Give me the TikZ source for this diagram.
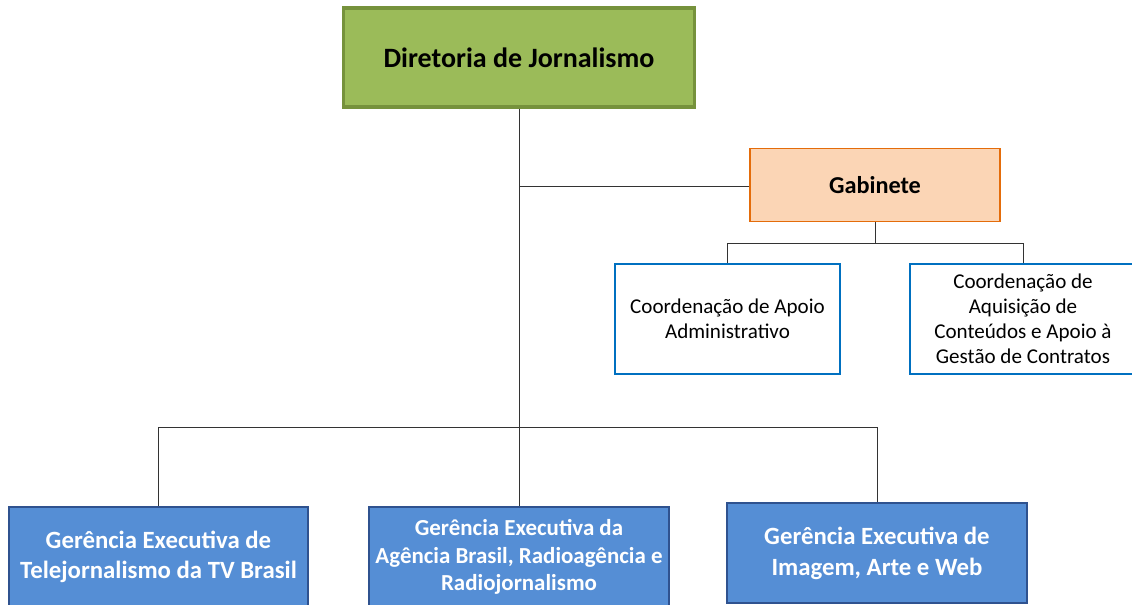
\documentclass[tikz,border=0pt]{standalone}
\usepackage{fontspec}
\setmainfont{Carlito}
\definecolor{dgreen}{HTML}{9BBB59}
\definecolor{dgreenb}{HTML}{76923C}
\definecolor{gabfill}{HTML}{FBD5B5}
\definecolor{gabline}{HTML}{E46C0A}
\definecolor{coordline}{HTML}{0070C0}
\definecolor{gerfill}{HTML}{558ED5}
\definecolor{gerline}{HTML}{2F528F}
\tikzset{
  box/.style={rectangle, inner sep=2pt, align=center},
  dirbox/.style={box, fill=dgreen, draw=dgreenb, line width=2.4pt, font=\fontsize{21}{25}\selectfont\bfseries},
  gabbox/.style={box, fill=gabfill, draw=gabline, line width=1.1pt, font=\fontsize{18.2}{22}\selectfont\bfseries},
  coordbox/.style={box, fill=white, draw=coordline, line width=1.1pt, font=\fontsize{15.8}{18.75}\selectfont},
  gerbox/.style={box, fill=gerfill, draw=gerline, line width=1.5pt, text=white, font=\fontsize{18.6}{23}\selectfont\bfseries},
  conn/.style={draw=black!80, line width=0.7pt}
}
\begin{document}
\begin{tikzpicture}[x=0.75pt,y=-0.75pt]
\useasboundingbox (0,0) rectangle (1132,605);
\clip (0,0) rectangle (1132,605);
% nodes
\node[dirbox, minimum width=351*0.75pt, minimum height=99*0.75pt] (dir) at (519,57.5) {Diretoria de Jornalismo};
\node[gabbox, minimum width=250*0.75pt, minimum height=73*0.75pt] (gab) at (875,185) {Gabinete};
\node[coordbox, minimum width=225*0.75pt, minimum height=110*0.75pt] (c1) at (727.5,319) {Coordenação de Apoio\\Administrativo};
\node[coordbox, minimum width=226*0.75pt, minimum height=110*0.75pt] (c2) at (1023,319) {Coordenação de\\Aquisição de\\Conteúdos e Apoio à\\Gestão de Contratos};
\node[gerbox, minimum width=299*0.75pt, minimum height=100*0.75pt] (g1) at (158.5,557) {Gerência Executiva de\\Telejornalismo da TV Brasil};
\node[gerbox, minimum width=300*0.75pt, minimum height=100*0.75pt, font=\fontsize{17.2}{20.6}\selectfont\bfseries] (g2) at (519,557) {Gerência Executiva da\\Agência Brasil, Radioagência e\\Radiojornalismo};
\node[gerbox, minimum width=300*0.75pt, minimum height=100*0.75pt] (g3) at (877,553.5) {Gerência Executiva de\\Imagem, Arte e Web};
% connectors
\coordinate (j1) at (519,186);
\coordinate (j2) at (519,427);
\coordinate (k1) at (875,243);
\draw[conn] (dir.south) -- (j2);
\draw[conn] (j1) -- (gab.west |- j1);
\draw[conn] (gab.south) -- (k1);
\draw[conn] (k1) -| (c1.north);
\draw[conn] (k1) -| (c2.north);
\draw[conn] (j2) -| (g1.north);
\draw[conn] (j2) -- (g2.north);
\draw[conn] (j2) -| (g3.north);
\end{tikzpicture}
\end{document}
